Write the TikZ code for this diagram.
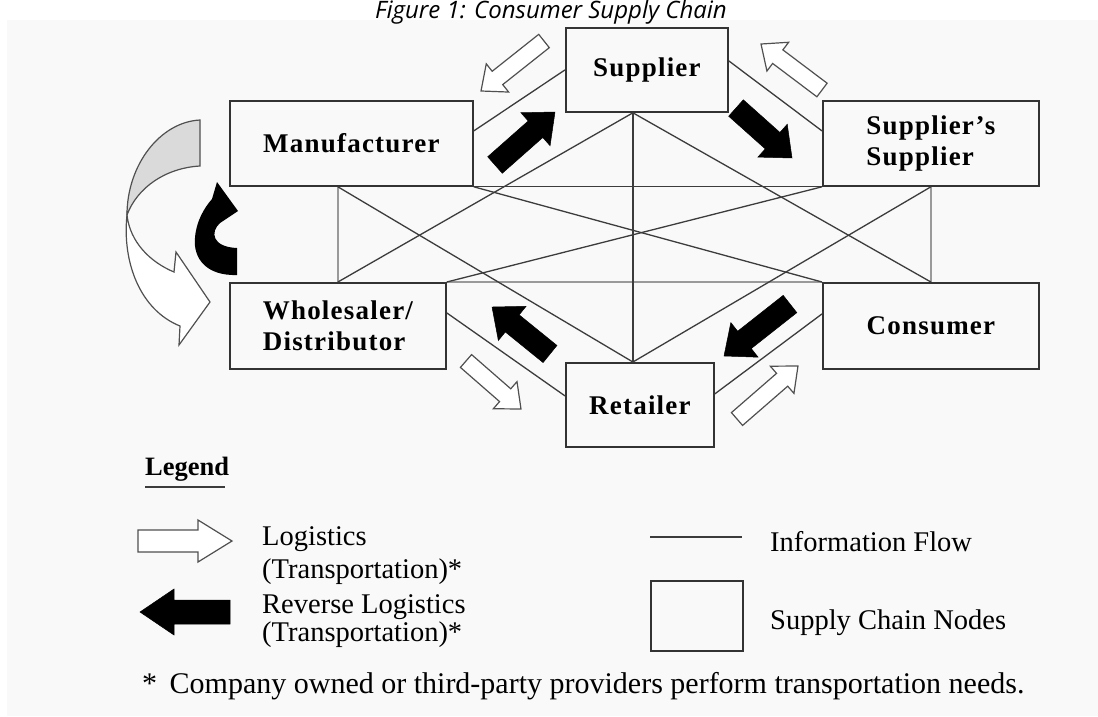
\documentclass[tikz,border=0pt]{standalone}
\usepackage{fontspec}
\setmainfont{Liberation Serif}
\newfontfamily\titlefont{Open Sans}
\newfontfamily\boxfont[LetterSpace=4.5]{Liberation Serif}
\usetikzlibrary{calc}
\definecolor{bgc}{HTML}{F9F9F9}
\definecolor{boxc}{HTML}{333333}
\definecolor{linec}{HTML}{3C3C3C}
\definecolor{greyc}{HTML}{9A9A9A}
\definecolor{arrc}{HTML}{505050}
\definecolor{crescent}{HTML}{DADADA}
\newcommand\barrow[8]{%
  \pgfmathsetmacro\baang{atan2(#3-#5,#4-#2)}%
  \pgfmathsetmacro\balen{veclen(#4-#2,#5-#3)}%
  \pgfmathsetmacro\babase{\balen-#8}%
  \begin{scope}[shift={(#2,#3)},rotate=\baang]
    \path[#1] (0,-#6) -- (\babase,-#6) -- (\babase,-#7) -- (\balen,0) -- (\babase,#7) -- (\babase,#6) -- (0,#6) -- cycle;
  \end{scope}}
\begin{document}
\begin{tikzpicture}[x=1pt,y=-1pt,
  scnode/.style={draw=boxc, line width=1.8pt, inner sep=0pt, anchor=north west,
    font=\boxfont\fontsize{27}{31}\selectfont\bfseries},
  info/.style={draw=linec, line width=1.3pt},
  ginfo/.style={draw=greyc, line width=1.3pt},
  whitearr/.style={fill=white, draw=arrc, line width=1.2pt, line join=miter},
  blackarr/.style={fill=black, draw=black, line width=0.5pt},
  legtext/.style={anchor=base west, inner sep=0pt, font=\fontsize{28.5}{30}\selectfont}]
\useasboundingbox (0,0) rectangle (1098,716);
\fill[white] (0,0) rectangle (1098,716);
\fill[bgc] (7,20) rectangle (1098,716);
\node[anchor=base, inner sep=0pt, font=\titlefont\itshape\fontsize{24}{26}\selectfont] (title) at (551,18) {Figure 1: Consumer Supply Chain};

% supply chain nodes
\node[scnode, minimum width=162, minimum height=84] (sup) at (565,27) {Supplier};
\node[scnode, minimum width=243, minimum height=85] (man) at (229,100) {Manufacturer};
\node[scnode, minimum width=216, minimum height=85, align=left] (ss) at (822,100) {Supplier’s\\Supplier};
\node[scnode, minimum width=216, minimum height=86, align=left] (whs) at (229,282) {Wholesaler/\\Distributor};
\node[scnode, minimum width=216, minimum height=86] (con) at (822,282) {Consumer};
\node[scnode, minimum width=148, minimum height=84] (ret) at (565,362) {Retailer};

\coordinate (sb) at ([xshift=-14pt]sup.south);
\coordinate (rt) at ([xshift=-7pt]ret.north);
\coordinate (mb) at ([xshift=-13.5pt]man.south);

% information flow
\draw[ginfo] (mb) -- (whs.north);
\draw[ginfo] (ss.south) -- (con.north);
\draw[ginfo] (whs.north east) -- (con.north west);
\draw[info] (man.south east) -- (ss.south west);
\draw[info] ([yshift=12.5pt]man.east) -- (sup.west);
\draw[info] ([yshift=9pt]sup.east) -- ([yshift=12.5pt]ss.west);
\draw[info] ([yshift=13pt]whs.east) -- ([yshift=9pt]ret.west);
\draw[info] ([yshift=12pt]con.west) -- ([yshift=11pt]ret.east);
\draw[info] (sb) -- (rt);
\draw[info] (sb) -- (whs.north);
\draw[info] (sb) -- (con.north);
\draw[info] (mb) -- (rt);
\draw[info] (ss.south) -- (rt);
\draw[info] (man.south east) -- (con.north west);
\draw[info] (whs.north east) -- (ss.south west);

% transport arrows
\barrow{blackarr}{495}{165}{555}{112}{11}{22}{26}
\barrow{blackarr}{736}{108}{792}{158}{11}{22}{26}
\barrow{blackarr}{550}{354}{492}{307}{11}{22}{26}
\barrow{blackarr}{790}{304}{724}{356}{11}{22}{26}
\barrow{whitearr}{544}{41}{481}{91}{8.5}{18}{21}
\barrow{whitearr}{822}{90}{761}{44}{8.5}{18}{21}
\barrow{whitearr}{466}{361}{521}{409}{8.5}{18}{21}
\barrow{whitearr}{737}{419}{798}{366}{8.5}{18}{21}

% curved arrows on the left
\filldraw[fill=crescent, draw=arrc, line width=1.2pt] (200,120) .. controls (160,122) and (127,165) .. (127,215) .. controls (137,188) and (165,168) .. (200,166) -- cycle;
\filldraw[whitearr] (127,215) .. controls (122,262) and (140,310) .. (180,326) -- (179,345) -- (210,302) -- (176,252) -- (174,272) .. controls (150,262) and (130,242) .. (127,215) -- cycle;
\fill[black] (217,182) -- (238,211) -- (220,223) .. controls (210,232) and (212,247) .. (237,248) -- (237,275) .. controls (206,276) and (193,258) .. (195,238) .. controls (196,222) and (204,208) .. (212,199) -- cycle;

% legend
\node[anchor=base west, inner sep=0pt, font=\fontsize{26.5}{28}\selectfont\bfseries] (leg) at (145,475) {Legend};
\draw[line width=1.5pt, linec] ([yshift=-12pt]leg.base west) -- ([yshift=-12pt,xshift=-4pt]leg.base east);
\barrow{whitearr}{138}{541}{232}{541}{11}{21}{34}
\barrow{blackarr}{230}{612}{140}{612}{12}{23}{34}
\node[legtext] (l1) at (262,545) {Logistics};
\node[legtext] (l2) at (262,578) {(Transportation)*};
\node[legtext] (l3) at (262,613) {Reverse Logistics};
\node[legtext] (l4) at (262,641) {(Transportation)*};
\draw[line width=2.5pt, linec] (650,537) -- (742,537);
\node[draw=boxc, line width=1.8pt, minimum width=92, minimum height=70, anchor=north west, inner sep=0pt] (legbox) at (650,580) {};
\node[legtext] (l5) at (770,551) {Information Flow};
\node[legtext] (l6) at (770,629) {Supply Chain Nodes};
\node[legtext, font=\fontsize{30}{32}\selectfont] (foot) at (142,693) {*\, Company owned or third-party providers perform transportation needs.};
\end{tikzpicture}
\end{document}
